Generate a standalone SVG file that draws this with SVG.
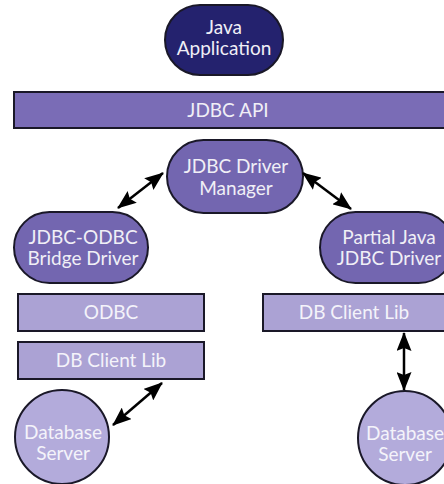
<svg xmlns="http://www.w3.org/2000/svg" width="444" height="484" viewBox="0 0 444 484">
  <style>
    .node { stroke: #1a1828; stroke-width: 2; }
    .app { fill: #24226e; }
    .api { fill: #7a6cb6; }
    .drv { fill: #7366b0; }
    .lib { fill: #aba2d4; }
    .db  { fill: #b3abdb; }
    .lbl { font-family: Lato, "Open Sans", sans-serif; font-size: 19px; fill: #f0eff6; text-anchor: middle; }
    .lbl-l { font-family: Lato, "Open Sans", sans-serif; font-size: 19px; fill: #f4f3fa; text-anchor: middle; }
    .conn { stroke: #000; stroke-width: 2.5; fill: none; marker-start: url(#head); marker-end: url(#head); }
  </style>
  <defs>
    <!-- fat double-ended arrowhead shared by all connectors -->
    <marker id="head" viewBox="0 0 19 15" refX="18" refY="7.5" markerWidth="19" markerHeight="15" markerUnits="userSpaceOnUse" orient="auto-start-reverse">
      <path d="M0,0 L19,7.5 L0,15 L3,7.5 z" fill="#000"/>
    </marker>
  </defs>

  <rect width="444" height="484" fill="#ffffff"/>

  <g id="java-application">
    <rect class="node app" x="165" y="5" width="118" height="70" rx="35" ry="35"/>
    <text class="lbl" x="224" y="34">Java</text>
    <text class="lbl" x="224" y="55">Application</text>
  </g>

  <g id="jdbc-api">
    <rect class="node api" x="14" y="92" width="434" height="36"/>
    <text class="lbl" x="228" y="117">JDBC API</text>
  </g>

  <g id="driver-manager">
    <rect class="node drv" x="167" y="140" width="136" height="73" rx="36.5" ry="36.5"/>
    <text class="lbl" x="236" y="173">JDBC Driver</text>
    <text class="lbl" x="236" y="195">Manager</text>
  </g>

  <g id="bridge-driver">
    <rect class="node drv" x="14" y="212" width="134" height="71" rx="35.5" ry="35.5"/>
    <text class="lbl" x="83" y="244">JDBC-ODBC</text>
    <text class="lbl" x="83" y="265">Bridge Driver</text>
  </g>

  <g id="partial-java-driver">
    <rect class="node drv" x="320" y="212" width="134" height="71" rx="35.5" ry="35.5"/>
    <text class="lbl" x="389" y="244">Partial Java</text>
    <text class="lbl" x="389" y="265">JDBC Driver</text>
  </g>

  <g id="odbc">
    <rect class="node lib" x="18" y="294" width="186" height="37"/>
    <text class="lbl-l" x="111" y="319">ODBC</text>
  </g>

  <g id="client-lib-left">
    <rect class="node lib" x="18" y="342" width="186" height="37"/>
    <text class="lbl-l" x="111" y="367">DB Client Lib</text>
  </g>

  <g id="client-lib-right">
    <rect class="node lib" x="263" y="294" width="186" height="37"/>
    <text class="lbl-l" x="354" y="319">DB Client Lib</text>
  </g>

  <g id="database-left">
    <circle class="node db" cx="62" cy="437" r="47"/>
    <text class="lbl-l" x="63" y="439">Database</text>
    <text class="lbl-l" x="63" y="460">Server</text>
  </g>

  <g id="database-right">
    <circle class="node db" cx="405" cy="438" r="47"/>
    <text class="lbl-l" x="405" y="440">Database</text>
    <text class="lbl-l" x="405" y="461">Server</text>
  </g>

  <g id="connectors">
    <line class="conn" x1="118" y1="208" x2="163" y2="173"/>
    <line class="conn" x1="303" y1="173" x2="351" y2="209"/>
    <line class="conn" x1="113" y1="425" x2="162" y2="383"/>
    <line class="conn" x1="404" y1="333" x2="404" y2="390"/>
  </g>
</svg>
